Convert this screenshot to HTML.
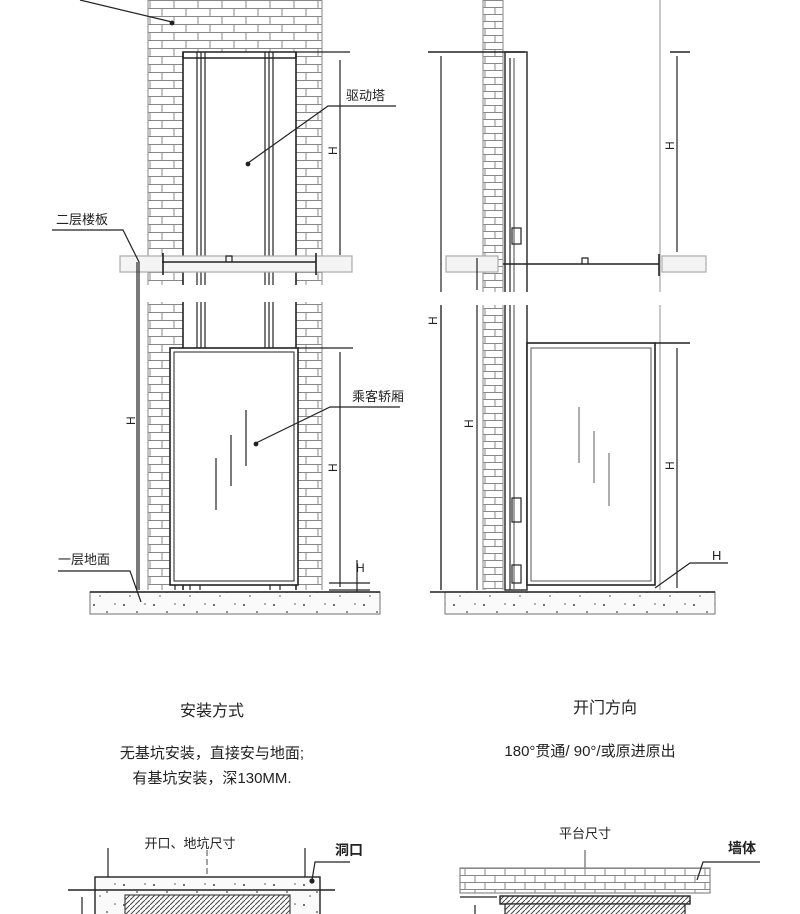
<!DOCTYPE html>
<html><head><meta charset="utf-8"><style>
html,body{margin:0;padding:0;background:#fff;width:800px;height:914px;overflow:hidden}
svg{display:block}
text{font-family:"Liberation Sans","Noto Sans CJK SC",sans-serif;fill:#222}
</style></head><body>
<svg width="800" height="914" viewBox="0 0 800 914" xmlns="http://www.w3.org/2000/svg">
<defs>
<pattern id="brick" width="24" height="16" patternUnits="userSpaceOnUse">
<rect width="24" height="16" fill="#fff"/>
<path d="M0 0.5H24M0 8.5H24M6 0V8M18 8V16" stroke="#888" stroke-width="1" fill="none"/>
</pattern>
<pattern id="brick2" width="20" height="14" patternUnits="userSpaceOnUse">
<rect width="20" height="14" fill="#fff"/>
<path d="M0 0.5H20M0 7.5H20M5 0V7M15 7V14" stroke="#888" stroke-width="1" fill="none"/>
</pattern>
<pattern id="hatch" width="5" height="5" patternUnits="userSpaceOnUse">
<rect width="5" height="5" fill="#fff"/>
<path d="M0 5L5 0" stroke="#444" stroke-width="1"/>
</pattern>
<pattern id="conc" width="30" height="20" patternUnits="userSpaceOnUse">
<rect width="30" height="20" fill="#fafafa"/>
<circle cx="4" cy="5" r="1" fill="#444"/><circle cx="17" cy="12" r="0.9" fill="#444"/><circle cx="25" cy="4" r="0.8" fill="#555"/><circle cx="10" cy="16" r="0.8" fill="#555"/>
</pattern>
</defs>
<g stroke="#222" fill="none" stroke-width="1.2">
<!-- LEFT DRAWING -->
<rect x="148" y="0" width="174" height="590" fill="url(#brick)" stroke="none"/>
<line x1="148" y1="0" x2="148" y2="590" stroke="#999"/>
<line x1="322" y1="0" x2="322" y2="590" stroke="#999"/>
<rect x="183" y="52" width="113" height="538" fill="#fff" stroke="none"/>
<rect x="183" y="52" width="113" height="6" fill="none" stroke-width="1.5"/>
<line x1="183" y1="52" x2="183" y2="590" stroke-width="1.6"/>
<line x1="296" y1="52" x2="296" y2="590" stroke-width="1.6"/>
<line x1="197" y1="52" x2="197" y2="348"/><line x1="201" y1="52" x2="201" y2="348"/><line x1="205" y1="52" x2="205" y2="348"/>
<line x1="265" y1="52" x2="265" y2="348"/><line x1="269" y1="52" x2="269" y2="348"/><line x1="273" y1="52" x2="273" y2="348"/>
<line x1="296" y1="52" x2="350" y2="52"/>
<rect x="120" y="256" width="232" height="16" fill="#f4f4f4" stroke="#aaa"/>
<line x1="162" y1="262" x2="316" y2="262" stroke-width="1.4"/>
<line x1="163" y1="253" x2="163" y2="275" stroke-width="1.6"/>
<line x1="316" y1="253" x2="316" y2="275" stroke-width="1.6"/>
<path d="M226 262V256H232V262"/>
<rect x="100" y="285" width="280" height="17" fill="#fff" stroke="none"/>
<!-- car -->
<rect x="170" y="348" width="128" height="237" fill="#fff" stroke-width="1.6"/>
<rect x="174" y="352" width="120" height="229" stroke-width="1"/>
<line x1="216" y1="458" x2="216" y2="510"/><line x1="231" y1="435" x2="231" y2="486"/><line x1="246" y1="410" x2="246" y2="466"/>
<path d="M175 585V590M190 585V590M200 585V590M270 585V590M280 585V590"/>
<line x1="298" y1="348" x2="353" y2="348"/>
<line x1="340" y1="352" x2="340" y2="587"/>
<path d="M329 583H370M329 590H370"/>
<line x1="357" y1="560" x2="357" y2="596"/>
<text x="356" y="572" font-size="12" stroke="none" font-family="Liberation Sans">H</text>
<!-- ground -->
<rect x="90" y="592" width="290" height="22" fill="url(#conc)" stroke="#888"/>
<line x1="90" y1="592" x2="380" y2="592" stroke-width="1.5"/>
<!-- dims -->
<line x1="137" y1="262" x2="137" y2="590" stroke-width="1.2"/>
<line x1="340" y1="60" x2="340" y2="255"/>
<!-- labels/leaders left -->
<path d="M80 0L172 22"/><circle cx="172" cy="23" r="1.8" fill="#222"/>
<path d="M396 106H328L248 163"/><circle cx="248" cy="164" r="1.8" fill="#222"/>
<text x="346" y="100" font-size="13" stroke="none">驱动塔</text>
<path d="M52 230H123L139 262V590"/>
<text x="56" y="224" font-size="13" stroke="none">二层楼板</text>
<path d="M400 407H330L256 443"/><circle cx="256" cy="444" r="1.8" fill="#222"/>
<text x="352" y="401" font-size="13" stroke="none">乘客轿厢</text>
<path d="M58 571H130L141 602"/>
<text x="58" y="564" font-size="13" stroke="none">一层地面</text>
<text x="135" y="425" font-size="12" stroke="none" transform="rotate(-90 135 425)">H</text>
<text x="337" y="155" font-size="12" stroke="none" transform="rotate(-90 337 155)">H</text>
<text x="337" y="472" font-size="12" stroke="none" transform="rotate(-90 337 472)">H</text>

<!-- RIGHT DRAWING -->
<rect x="483" y="0" width="20" height="590" fill="url(#brick2)" stroke="none"/>
<line x1="483" y1="0" x2="483" y2="590" stroke="#999"/>
<line x1="503" y1="0" x2="503" y2="590" stroke="#999"/>
<rect x="505" y="52" width="22" height="538" stroke-width="1.4" fill="#fff"/>
<line x1="510" y1="58" x2="510" y2="590" stroke-width="1.2"/>
<line x1="514" y1="58" x2="514" y2="590" stroke="#666"/>
<rect x="512" y="228" width="9" height="16" stroke-width="1.2"/>
<rect x="512" y="498" width="9" height="24" stroke-width="1.2"/>
<rect x="512" y="565" width="9" height="18" stroke-width="1.2"/>
<line x1="660" y1="0" x2="660" y2="590" stroke="#bbb" stroke-width="1.6"/>
<line x1="428" y1="52" x2="525" y2="52" stroke-width="1.6"/>
<line x1="441" y1="56" x2="441" y2="590"/>
<line x1="670" y1="52" x2="690" y2="52" stroke-width="1.6"/>
<line x1="677" y1="56" x2="677" y2="252"/>
<rect x="446" y="256" width="52" height="16" fill="#f4f4f4" stroke="#aaa"/>
<rect x="662" y="256" width="44" height="16" fill="#f4f4f4" stroke="#aaa"/>
<line x1="477" y1="258" x2="477" y2="290"/>
<line x1="503" y1="264" x2="659" y2="264" stroke-width="1.4"/>
<line x1="659" y1="254" x2="659" y2="276" stroke-width="1.6"/>
<path d="M582 264V258H588V264"/>
<rect x="430" y="292" width="290" height="13" fill="#fff" stroke="none"/>
<line x1="441" y1="305" x2="441" y2="590"/>
<line x1="477" y1="305" x2="477" y2="590"/>
<!-- car right -->
<rect x="527" y="343" width="128" height="242" fill="#fff" stroke-width="1.6"/>
<rect x="531" y="348" width="120" height="233" stroke="#555" stroke-width="1"/>
<line x1="579" y1="407" x2="579" y2="463" stroke="#777"/><line x1="594" y1="431" x2="594" y2="483" stroke="#777"/><line x1="609" y1="453" x2="609" y2="506" stroke="#777"/>
<line x1="655" y1="343" x2="690" y2="343" stroke-width="1.4"/>
<line x1="677" y1="348" x2="677" y2="588"/>
<path d="M655 588L690 563H728"/>
<text x="712" y="560" font-size="13" stroke="none">H</text>
<rect x="445" y="592" width="270" height="22" fill="url(#conc)" stroke="#888"/>
<line x1="430" y1="592" x2="715" y2="592" stroke-width="1.5"/>
<text x="437" y="325" font-size="12" stroke="none" transform="rotate(-90 437 325)">H</text>
<text x="473" y="428" font-size="12" stroke="none" transform="rotate(-90 473 428)">H</text>
<text x="674" y="150" font-size="12" stroke="none" transform="rotate(-90 674 150)">H</text>
<text x="674" y="470" font-size="12" stroke="none" transform="rotate(-90 674 470)">H</text>
</g>

<!-- captions -->
<text x="212" y="716" font-size="16" text-anchor="middle">安装方式</text>
<text x="212" y="758" font-size="15" text-anchor="middle">无基坑安装，直接安与地面;</text>
<text x="212" y="783" font-size="15" text-anchor="middle">有基坑安装，深130MM.</text>
<text x="605" y="713" font-size="16" text-anchor="middle">开门方向</text>
<text x="590" y="756" font-size="15" text-anchor="middle">180°贯通/ 90°/或原进原出</text>

<!-- BOTTOM -->
<g stroke="#222" fill="none" stroke-width="1.2">
<text x="190" y="848" font-size="13" stroke="none" text-anchor="middle">开口、地坑尺寸</text>
<line x1="108" y1="848" x2="108" y2="914"/>
<line x1="305" y1="848" x2="305" y2="914"/>
<line x1="207" y1="850" x2="207" y2="914" stroke-dasharray="6 3" stroke="#666"/>
<rect x="95" y="877" width="225" height="40" fill="url(#conc)" stroke-width="1.4"/>
<line x1="68" y1="890" x2="335" y2="890" stroke-width="1.4"/>
<rect x="125" y="895" width="165" height="25" fill="url(#hatch)" stroke="#444"/>
<path d="M350 862H315L312 880"/><circle cx="312" cy="881" r="2" fill="#222"/>
<text x="335" y="855" font-size="14" font-weight="bold" stroke="none">洞口</text>
<line x1="82" y1="897" x2="82" y2="914"/>
<text x="585" y="838" font-size="13" stroke="none" text-anchor="middle">平台尺寸</text>
<line x1="585" y1="850" x2="585" y2="890" stroke="#666"/>
<rect x="460" y="868" width="250" height="25" fill="url(#brick2)" stroke="#888"/>
<path d="M760 862H703L697 880"/>
<text x="728" y="853" font-size="14" font-weight="bold" stroke="none">墙体</text>
<line x1="460" y1="897" x2="497" y2="897"/>
<rect x="500" y="896" width="190" height="8" fill="url(#hatch)" stroke-width="1.4"/>
<rect x="505" y="904" width="180" height="12" fill="url(#hatch)" stroke-width="1.2"/>
<line x1="475" y1="905" x2="475" y2="914"/>
</g>
</svg>
</body></html>
